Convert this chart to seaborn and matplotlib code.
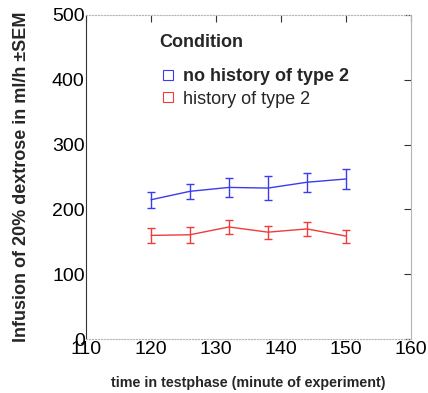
import pandas as pd
import matplotlib.pyplot as plt
import seaborn as sns
from matplotlib.lines import Line2D

# minutes of the test phase
minutes = [120, 126, 132, 138, 144, 150]

# mean infusion (ml/h) and SEM per group
no_history_mean = [215, 228, 234, 233, 242, 247]
no_history_sem = [12, 12, 15, 18, 15, 16]
history_mean = [160, 161, 173, 165, 170, 159]
history_sem = [11, 12, 11, 10, 11, 10]

groups = ['no history of type 2', 'history of type 2']
colors = ['#3b3bf0', '#f03b3b']

sns.set_style('white')
plt.rcParams['font.family'] = ['Liberation Sans', 'DejaVu Sans']

data = pd.DataFrame({
    'minute': minutes * 2,
    'infusion': no_history_mean + history_mean,
    'sem': no_history_sem + history_sem,
    'Condition': [groups[0]] * len(minutes) + [groups[1]] * len(minutes),
})

fig = plt.figure(figsize=(4.28, 3.93), dpi=100)
ax = fig.add_axes([0.201, 0.137, 0.759, 0.825])

sns.lineplot(x='minute', y='infusion', hue='Condition', data=data,
             palette=colors, hue_order=groups, linewidth=1, legend=False, ax=ax)

# SEM error bars
for grp, col in zip(groups, colors):
    sub = data[data['Condition'] == grp]
    ax.errorbar(sub['minute'], sub['infusion'], yerr=sub['sem'], fmt='none',
                ecolor=col, elinewidth=1, capsize=3, capthick=1)

ax.set_xlim(110, 160)
ax.set_ylim(0, 500)
ax.set_xticks([110, 120, 130, 140, 150, 160])
ax.set_yticks([0, 100, 200, 300, 400, 500])
ax.tick_params(direction='in', length=5, width=0.8, labelsize=14,
               top=True, right=True, colors='#333333', labelcolor='black', pad=1)

ax.spines['left'].set_color('#333333')
for side in ['left', 'bottom', 'top', 'right']:
    ax.spines[side].set_linewidth(0.8)
for side in ['top', 'right', 'bottom']:
    ax.spines[side].set_color('#b5b5b5')
ax.spines['top'].set_linestyle(':')
ax.spines['bottom'].set_linestyle(':')

ax.set_xlabel('time in testphase (minute of experiment)', fontsize=10.3, fontweight='bold', labelpad=13)
ax.set_ylabel('Infusion of 20% dextrose in ml/h \u00b1SEM', fontsize=13, fontweight='bold', labelpad=16)

# legend with open square markers
handles = [Line2D([], [], linestyle='none', marker='s', markersize=7, markerfacecolor='none',
                  markeredgecolor=c, markeredgewidth=0.8) for c in colors]
leg = ax.legend(handles, groups, title='Condition', loc='upper left', bbox_to_anchor=(0.175, 0.99),
                frameon=False, fontsize=13, handletextpad=0.3, handlelength=1.0, labelspacing=0.3)
leg.get_title().set_fontweight('bold')
leg.get_title().set_fontsize(13)
leg._legend_box.align = 'left'
leg._legend_box.sep = 12
leg.get_texts()[0].set_fontweight('bold')

plt.savefig('out.png', dpi=100)
